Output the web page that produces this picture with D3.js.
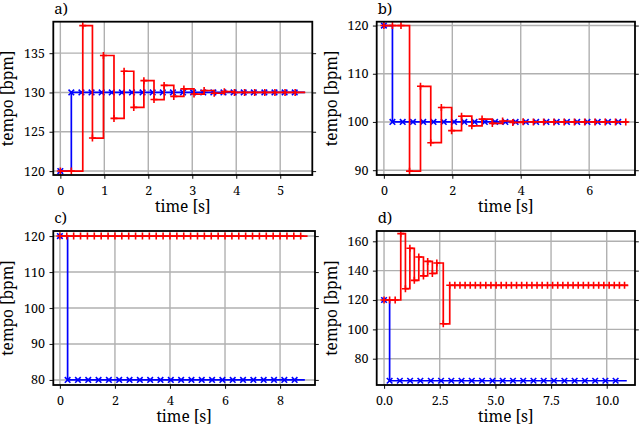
<!DOCTYPE html>
<html>
<head>
<meta charset="utf-8">
<script src="https://cdn.jsdelivr.net/npm/d3@7"></script>
<style>
  body { margin: 0; background: #fff; }
  svg { display: block; }
  text { font-family: 'Noto Serif', 'DejaVu Serif Condensed', serif; font-weight: normal; }
</style>
</head>
<body>
<svg id="chart" width="640" height="425"></svg>
<script>
// panel labels
const panelLabels = ['a)', 'b)', 'c)', 'd)'];

// a) leader goes 120 -> 130, follower oscillates in
const blueTimesA = [0, 0.25, 0.48, 0.71, 0.94, 1.17, 1.40, 1.63, 1.87, 2.10, 2.33, 2.56, 2.79, 3.02, 3.25, 3.48, 3.71, 3.94, 4.17, 4.40, 4.64, 4.87, 5.10, 5.33];
const blueTempoA = [120, 130, 130, 130, 130, 130, 130, 130, 130, 130, 130, 130, 130, 130, 130, 130, 130, 130, 130, 130, 130, 130, 130, 130];
const redTimesA = [0, 0.25, 0.51, 0.73, 0.98, 1.22, 1.45, 1.67, 1.90, 2.13, 2.36, 2.58, 2.81, 3.04, 3.27, 3.50, 3.73, 3.96, 4.19, 4.42, 4.65, 4.88, 5.11, 5.34];
const redTempoA = [120, 120, 138.5, 124.2, 134.7, 126.7, 132.7, 128.1, 131.5, 129.1, 130.9, 129.5, 130.45, 129.8, 130.25, 129.9, 130.1, 130, 130, 130, 130, 130, 130, 130];

// b) 120 -> 100
const blueTimesB = [0, 0.25, 0.55, 0.85, 1.15, 1.45, 1.75, 2.05, 2.35, 2.65, 2.95, 3.25, 3.55, 3.85, 4.15, 4.45, 4.75, 5.05, 5.35, 5.65, 5.95, 6.25, 6.55, 6.85];
const blueTempoB = [120, 100, 100, 100, 100, 100, 100, 100, 100, 100, 100, 100, 100, 100, 100, 100, 100, 100, 100, 100, 100, 100, 100, 100];
const redTimesB = [0, 0.25, 0.5, 0.75, 1.07, 1.37, 1.68, 1.98, 2.27, 2.57, 2.87, 3.17, 3.47, 3.77, 4.07, 4.37, 4.67, 4.97, 5.27, 5.57, 5.87, 6.17, 6.47, 6.77, 7.07];
const redTempoB = [120, 120, 120, 89.8, 107.4, 95.7, 103.0, 98.2, 101.2, 99.2, 100.6, 99.7, 100.2, 99.9, 100.05, 100, 100, 100, 100, 100, 100, 100, 100, 100, 100];

// c) 120 -> 80, follower does not move
const blueTimesC = [0, 0.28, 0.655, 1.03, 1.405, 1.78, 2.155, 2.53, 2.905, 3.28, 3.655, 4.03, 4.405, 4.78, 5.155, 5.53, 5.905, 6.28, 6.655, 7.03, 7.405, 7.78, 8.155, 8.53];
const blueTempoC = [120, 80, 80, 80, 80, 80, 80, 80, 80, 80, 80, 80, 80, 80, 80, 80, 80, 80, 80, 80, 80, 80, 80, 80];
const redTimesC = [0, 0.25, 0.5, 0.75, 1, 1.25, 1.5, 1.75, 2, 2.25, 2.5, 2.75, 3, 3.25, 3.5, 3.75, 4, 4.25, 4.5, 4.75, 5, 5.25, 5.5, 5.75, 6, 6.25, 6.5, 6.75, 7, 7.25, 7.5, 7.75, 8, 8.25, 8.5, 8.75];
const redTempoC = [120, 120, 120, 120, 120, 120, 120, 120, 120, 120, 120, 120, 120, 120, 120, 120, 120, 120, 120, 120, 120, 120, 120, 120, 120, 120, 120, 120, 120, 120, 120, 120, 120, 120, 120, 120];

// d) 120 -> 65, follower settles at 130
const blueTimesD = [0, 0.25, 0.71, 1.17, 1.63, 2.10, 2.56, 3.02, 3.48, 3.94, 4.40, 4.87, 5.33, 5.79, 6.25, 6.71, 7.17, 7.63, 8.10, 8.56, 9.02, 9.48, 9.94, 10.40];
const blueTempoD = [120, 65, 65, 65, 65, 65, 65, 65, 65, 65, 65, 65, 65, 65, 65, 65, 65, 65, 65, 65, 65, 65, 65, 65];
const redTimesD = [0, 0.25, 0.5, 0.75, 0.96, 1.16, 1.36, 1.56, 1.77, 1.96, 2.17, 2.37, 2.66, 2.95, 3.18, 3.41, 3.64, 3.87, 4.10, 4.33, 4.57, 4.80, 5.03, 5.26, 5.49, 5.72, 5.95, 6.18, 6.41, 6.64, 6.87, 7.10, 7.34, 7.57, 7.80, 8.03, 8.26, 8.49, 8.72, 8.95, 9.18, 9.41, 9.64, 9.87, 10.11, 10.34, 10.57, 10.80];
const redTempoD = [120, 120, 120, 165.2, 127.7, 155.2, 133.4, 149.3, 136.4, 146.3, 138.1, 145.2, 103.8, 130, 130, 130, 130, 130, 130, 130, 130, 130, 130, 130, 130, 130, 130, 130, 130, 130, 130, 130, 130, 130, 130, 130, 130, 130, 130, 130, 130, 130, 130, 130, 130, 130, 130, 130];

// where each step line stops
const blueEnd = [5.56, 7.14, 8.9, 10.9];
const redEnd = [5.57, 7.14, 9.0, 10.97];

// tick values
const xTicksA = [0, 1, 2, 3, 4, 5];
const yTicksA = [120, 125, 130, 135];
const xTicksB = [0, 2, 4, 6];
const yTicksB = [90, 100, 110, 120];
const xTicksC = [0, 2, 4, 6, 8];
const yTicksC = [80, 90, 100, 110, 120];
const xTicksD = [0, 2.5, 5, 7.5, 10];
const yTicksD = [80, 100, 120, 140, 160];

const panels = [
  {
    label: panelLabels[0],
    box: { left: 53.3, right: 312.3, top: 21.7, bottom: 175 },
    xDomain: [-0.16, 5.73], yDomain: [119.5, 139],
    xTicks: xTicksA, yTicks: yTicksA, xFormat: d3.format('d'),
    blue: { t: blueTimesA, v: blueTempoA, end: blueEnd[0] },
    red: { t: redTimesA, v: redTempoA, end: redEnd[0] },
  },
  {
    label: panelLabels[1],
    box: { left: 376.7, right: 635, top: 21.7, bottom: 175 },
    xDomain: [-0.21, 7.34], yDomain: [89.0, 120.8],
    xTicks: xTicksB, yTicks: yTicksB, xFormat: d3.format('d'),
    blue: { t: blueTimesB, v: blueTempoB, end: blueEnd[1] },
    red: { t: redTimesB, v: redTempoB, end: redEnd[1] },
  },
  {
    label: panelLabels[2],
    box: { left: 53.3, right: 315, top: 231, bottom: 385 },
    xDomain: [-0.24, 9.27], yDomain: [78.6, 121.4],
    xTicks: xTicksC, yTicks: yTicksC, xFormat: d3.format('d'),
    blue: { t: blueTimesC, v: blueTempoC, end: blueEnd[2] },
    red: { t: redTimesC, v: redTempoC, end: redEnd[2] },
  },
  {
    label: panelLabels[3],
    box: { left: 376.7, right: 635, top: 231, bottom: 385 },
    xDomain: [-0.33, 11.27], yDomain: [62.1, 167.0],
    xTicks: xTicksD, yTicks: yTicksD, xFormat: d3.format('.1f'),
    blue: { t: blueTimesD, v: blueTempoD, end: blueEnd[3] },
    red: { t: redTimesD, v: redTempoD, end: redEnd[3] },
  },
];

const svg = d3.select('#chart');

// marker shapes, centred on 0,0
const ms = 2.8;
const xMarker = `M${-ms},${-ms}L${ms},${ms}M${-ms},${ms}L${ms},${-ms}`;
const plusMarker = `M${-ms - 0.7},0H${ms + 0.7}M0,${-ms - 0.7}V${ms + 0.7}`;

function drawPanel(p, i) {
  const b = p.box;
  const x = d3.scaleLinear().domain(p.xDomain).range([b.left, b.right]);
  const y = d3.scaleLinear().domain(p.yDomain).range([b.bottom, b.top]);
  const g = svg.append('g').attr('class', 'panel-' + i);

  // grid lines
  g.selectAll('.vgrid')
    .data(p.xTicks)
    .join('line')
    .attr('class', 'vgrid')
    .attr('x1', (d) => x(d)).attr('x2', (d) => x(d))
    .attr('y1', b.top).attr('y2', b.bottom)
    .attr('stroke', '#b0b0b0').attr('stroke-width', 1.4);
  g.selectAll('.hgrid')
    .data(p.yTicks)
    .join('line')
    .attr('class', 'hgrid')
    .attr('x1', b.left).attr('x2', b.right)
    .attr('y1', (d) => y(d)).attr('y2', (d) => y(d))
    .attr('stroke', '#b0b0b0').attr('stroke-width', 1.4);

  // axes
  const xAxis = g.append('g')
    .attr('transform', `translate(0,${b.bottom})`)
    .call(d3.axisBottom(x).tickValues(p.xTicks).tickFormat(p.xFormat).tickSize(3.8).tickPadding(7.5));
  const yAxis = g.append('g')
    .attr('transform', `translate(${b.left},0)`)
    .call(d3.axisLeft(y).tickValues(p.yTicks).tickFormat(d3.format('d')).tickSize(3.8).tickPadding(4.5));
  const yAxisR = g.append('g')
    .attr('transform', `translate(${b.right},0)`)
    .call(d3.axisRight(y).tickValues(p.yTicks).tickFormat('').tickSize(3.8));

  [xAxis, yAxis, yAxisR].forEach((ax) => {
    ax.attr('font-family', null).attr('font-size', null);
    ax.select('.domain').remove();
    ax.selectAll('.tick line').attr('stroke', '#222').attr('stroke-width', 1.1);
    ax.selectAll('.tick text')
      .attr('fill', '#000')
      .style('font-size', '12.5px');
  });

  // step lines, blue first so red sits on top
  const line = d3.line()
    .x((d) => x(d[0]))
    .y((d) => y(d[1]))
    .curve(d3.curveStepAfter);

  [['#0000ff', p.blue, xMarker], ['#ff0000', p.red, plusMarker]].forEach(([colour, s, marker]) => {
    const pts = s.t.map((t, k) => [t, s.v[k]]);
    pts.push([s.end, s.v[s.v.length - 1]]);
    g.append('path')
      .datum(pts)
      .attr('d', line)
      .attr('fill', 'none')
      .attr('stroke', colour)
      .attr('stroke-width', 1.7);
    g.selectAll(null)
      .data(pts.slice(0, -1))
      .join('path')
      .attr('transform', (d) => `translate(${x(d[0])},${y(d[1])})`)
      .attr('d', marker)
      .attr('fill', 'none')
      .attr('stroke', colour)
      .attr('stroke-width', 1.6);
  });

  // frame
  g.append('rect')
    .attr('x', b.left).attr('y', b.top)
    .attr('width', b.right - b.left).attr('height', b.bottom - b.top)
    .attr('fill', 'none').attr('stroke', '#000').attr('stroke-width', 1.8);

  // panel letter
  g.append('text')
    .attr('x', b.left + 1)
    .attr('y', b.top - 8)
    .style('font-size', '15px')
    .text(p.label);

  // axis titles
  g.append('text')
    .attr('x', (b.left + b.right) / 2)
    .attr('y', b.bottom + 36.5)
    .attr('text-anchor', 'middle')
    .style('font-size', '15.5px')
    .text('time [s]');
  g.append('text')
    .attr('transform', `translate(${b.left - 40},${(b.top + b.bottom) / 2}) rotate(-90)`)
    .attr('text-anchor', 'middle')
    .style('font-size', '15.5px')
    .text('tempo [bpm]');
}

panels.forEach(drawPanel);
</script>
</body>
</html>
